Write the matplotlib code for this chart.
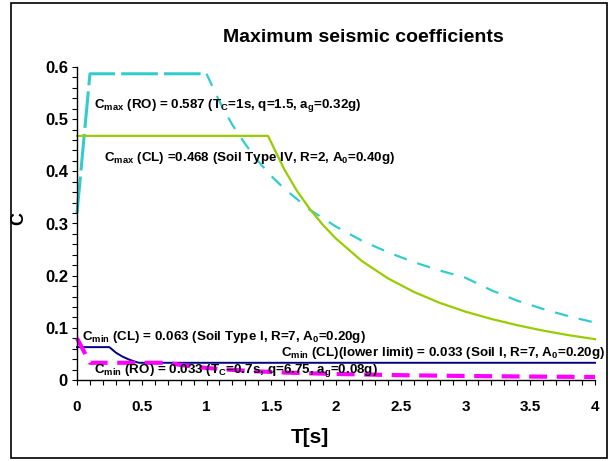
import matplotlib
matplotlib.use("Agg")
import matplotlib.pyplot as plt
from matplotlib.patches import Rectangle
from matplotlib.ticker import MultipleLocator

plt.rcParams['font.family'] = ['Liberation Sans', 'DejaVu Sans']
plt.rcParams['font.weight'] = 'bold'
plt.rcParams['mathtext.fontset'] = 'custom'
plt.rcParams['mathtext.rm'] = 'Liberation Sans:bold'
plt.rcParams['mathtext.it'] = 'Liberation Sans:bold'
plt.rcParams['mathtext.bf'] = 'Liberation Sans:bold'

# Cmax (RO) - Romanian code, Tc=1s, q=1.5, ag=0.32g
t_ro_max = [0.0, 0.1, 1.0, 1.1, 1.2, 1.3, 1.4, 1.5, 1.6, 1.8, 2.0, 2.2, 2.4,
            2.6, 2.8, 3.0, 3.2, 3.4, 3.6, 3.8, 4.0]
c_ro_max = [0.32, 0.587, 0.587, 0.534, 0.489, 0.452, 0.419, 0.391, 0.367,
            0.326, 0.294, 0.267, 0.245, 0.226, 0.210, 0.196, 0.172, 0.152,
            0.136, 0.122, 0.110]

# Cmax (CL) - Soil type IV, R=2, A0=0.40g
t_cl_max = [0.0, 1.475, 1.6, 1.7, 1.8, 1.9, 2.0, 2.2, 2.4, 2.6, 2.8, 3.0,
            3.2, 3.4, 3.6, 3.8, 4.0]
c_cl_max = [0.468, 0.468, 0.404, 0.362, 0.327, 0.297, 0.271, 0.228, 0.195,
            0.169, 0.148, 0.131, 0.117, 0.105, 0.0946, 0.0858, 0.0783]

# Cmin (CL) - Soil type I, R=7, A0=0.20g, lower limit 0.033
t_cl_min = [0.0, 0.25, 0.3, 0.35, 0.4, 0.45, 0.48, 4.0]
c_cl_min = [0.063, 0.063, 0.0525, 0.045, 0.0394, 0.035, 0.033, 0.033]

# Cmin (RO) - Tc=0.7s, q=6.75, ag=0.08g
t_ro_min = [0.0, 0.1, 0.7, 0.8, 0.9, 1.0, 1.2, 1.4, 1.6, 1.8, 2.0, 2.5,
            3.0, 3.5, 4.0]
c_ro_min = [0.08, 0.033, 0.033, 0.0289, 0.0257, 0.0231, 0.0193, 0.0165,
            0.0144, 0.0128, 0.0116, 0.0092, 0.0077, 0.0066, 0.0058]

W, H = 612, 461
fig = plt.figure(figsize=(W / 100, H / 100), dpi=100)
ax = fig.add_axes([77 / W, 1 - 380 / H, (595 - 77) / W, (380 - 67) / H])

# curves
ax.plot(t_ro_max[:3], c_ro_max[:3], color='#33CCCC', lw=2.2,
        dashes=(12, 2), clip_on=False)
ax.plot(t_ro_max[2:], c_ro_max[2:], color='#33CCCC', lw=1.6,
        dashes=(6, 5), clip_on=False)
ax.plot(t_cl_max, c_cl_max, color='#99CC00', lw=1.6, clip_on=False)
ax.plot(t_cl_min, c_cl_min, color='#000080', lw=1.4, clip_on=False)
ax.plot(t_ro_min, c_ro_min, color='#FF00FF', lw=3.0, dashes=(4.3, 2.3),
        clip_on=False)

# labels on the chart
fs = 9.6
ax.text(0.13, 0.527, r'C$_{\mathrm{max}}$ (RO) = 0.587 (T$_{\mathrm{C}}$=1s, q=1.5, a$_{\mathrm{g}}$=0.32g)',
        fontsize=fs, va='center', ha='left')
ax.text(0.21, 0.425, r'C$_{\mathrm{max}}$ (CL) =0.468 (Soil Type IV, R=2, A$_{\mathrm{0}}$=0.40g)',
        fontsize=fs, va='center', ha='left')
ax.text(0.04, 0.082, r'C$_{\mathrm{min}}$ (CL) = 0.063 (Soil Type I, R=7, A$_{\mathrm{0}}$=0.20g)',
        fontsize=fs, va='center', ha='left')
ax.text(4.08, 0.052, r'C$_{\mathrm{min}}$ (CL)(lower limit) = 0.033 (Soil I, R=7, A$_{\mathrm{0}}$=0.20g)',
        fontsize=fs, va='center', ha='right')
ax.text(0.13, 0.019, r'C$_{\mathrm{min}}$ (RO) = 0.033 (T$_{\mathrm{C}}$=0.7s, q=6.75, a$_{\mathrm{g}}$=0.08g)',
        fontsize=fs, va='center', ha='left')

# axes
ax.set_xlim(0, 4)
ax.set_ylim(0, 0.6)
ax.xaxis.set_minor_locator(MultipleLocator(0.1))
ax.yaxis.set_minor_locator(MultipleLocator(0.02))
ax.set_xticks([0, 0.5, 1, 1.5, 2, 2.5, 3, 3.5, 4])
ax.set_xticklabels(['0', '0.5', '1', '1.5', '2', '2.5', '3', '3.5', '4'])
ax.set_yticks([0, 0.1, 0.2, 0.3, 0.4, 0.5, 0.6])
ax.set_yticklabels(['0', '0.1', '0.2', '0.3', '0.4', '0.5', '0.6'])
ax.tick_params(axis='x', which='both', direction='out', length=3.5, width=0.8,
               pad=11, labelsize=11)
ax.tick_params(axis='y', which='both', direction='out', length=3.5, width=0.8,
               pad=3, labelsize=12)
for s in ['top', 'right']:
    ax.spines[s].set_visible(False)
for s in ['left', 'bottom']:
    ax.spines[s].set_linewidth(1.0)

fig.text(363 / W, 1 - 37 / H, 'Maximum seismic coefficients', fontsize=14,
         fontweight='bold', ha='center', va='center')
fig.text(19 / W, 1 - 218 / H, 'C', fontsize=13, fontweight='bold',
         rotation=90, ha='center', va='center')
fig.text(310 / W, 1 - 437 / H, 'T[s]', fontsize=15, fontweight='bold',
         ha='center', va='center')

# chart border
fig.patches.append(Rectangle((11 / W, 3 / H), (607 - 11) / W, (458 - 3) / H,
                             transform=fig.transFigure, fill=False,
                             edgecolor='black', lw=1.2))

fig.savefig('out.png', dpi=100)
